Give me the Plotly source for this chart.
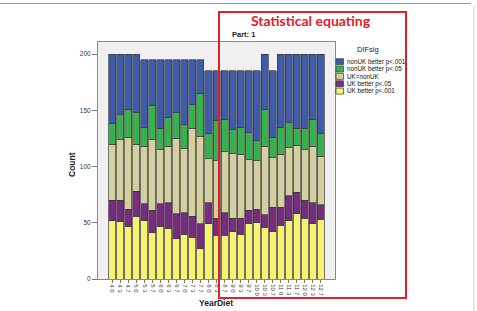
import plotly.graph_objects as go

categories = ["4 0", "4 3", "4 7", "5 0", "5 3", "5 7", "6 0", "6 3", "6 7",
              "7 0", "7 3", "7 7", "8 0", "8 3", "8 7", "9 0", "9 3", "9 7",
              "10 0", "10 3", "10 7", "11 0", "11 3", "11 7", "12 0", "12 3", "12 7"]

uk_better_001 = [52, 51, 47, 56, 52, 41, 47, 45, 36, 40, 37, 27, 49, 39, 39, 42, 40, 49, 50, 46, 42, 48, 52, 58, 54, 49, 53]
uk_better_05 = [18, 19, 15, 22, 15, 20, 20, 23, 22, 19, 19, 22, 19, 15, 20, 12, 14, 12, 12, 11, 22, 16, 22, 19, 16, 19, 13]
uk_eq_nonuk = [50, 54, 64, 42, 51, 63, 48, 50, 67, 57, 78, 78, 39, 51, 54, 58, 57, 45, 43, 61, 44, 47, 43, 42, 45, 50, 43]
nonuk_better_05 = [18, 22, 25, 28, 17, 30, 19, 26, 23, 21, 21, 38, 22, 36, 29, 21, 24, 24, 18, 33, 18, 24, 22, 15, 19, 24, 20]
nonuk_better_001 = [62, 54, 49, 52, 60, 41, 61, 51, 47, 58, 40, 30, 56, 44, 43, 52, 50, 55, 62, 49, 59, 65, 61, 66, 66, 58, 71]

series_names = ["UK better p<.001", "UK better p<.05", "UK=nonUK", "nonUK better p<.05", "nonUK better p<.001"]
series_values = [uk_better_001, uk_better_05, uk_eq_nonuk, nonuk_better_05, nonuk_better_001]
series_colors = ["#f7f36e", "#7a2a80", "#d5cf9c", "#36b24a", "#3e5aaa"]

y_ticks = [0, 50, 100, 150, 200]

W, H = 477, 311
L, R, T, B = 98, 335, 42, 279

def xp(px):
    return (px - L) / (R - L)

def yp(py):
    return (B - py) / (B - T)

fig = go.Figure()
for name, vals, col in zip(series_names, series_values, series_colors):
    fig.add_trace(go.Bar(
        x=categories, y=vals, name=name,
        marker=dict(color=col, line=dict(color="#3a3a3a", width=0.7)),
        showlegend=False,
    ))

shapes = []
annotations = []

# outer page frame
shapes.append(dict(type="line", xref="paper", yref="paper", x0=xp(0), x1=xp(471), y0=yp(3.5), y1=yp(3.5),
                   line=dict(color="#9a9a9a", width=1)))
shapes.append(dict(type="line", xref="paper", yref="paper", x0=xp(474), x1=xp(474), y0=yp(6), y1=yp(311),
                   line=dict(color="#d0d0d0", width=1)))

# red highlight box
shapes.append(dict(type="rect", xref="paper", yref="paper", x0=xp(219), x1=xp(406), y0=yp(12), y1=yp(298),
                   line=dict(color="#e3202a", width=2), fillcolor="rgba(0,0,0,0)", layer="above"))
annotations.append(dict(text="<b>Statistical equating</b>", xref="paper", yref="paper", x=xp(311), y=yp(21),
                        showarrow=False, font=dict(family="Lato, Open Sans", size=14, color="#e3202a"),
                        xanchor="center", yanchor="middle"))
annotations.append(dict(text="<b>Part: 1</b>", xref="paper", yref="paper", x=xp(230), y=yp(35),
                        showarrow=False, font=dict(family="Liberation Sans, Arial", size=7.5, color="#222"),
                        xanchor="left", yanchor="middle"))

# legend (drawn manually: title + swatches)
annotations.append(dict(text="DIFsig", xref="paper", yref="paper", x=xp(368), y=yp(49.5),
                        showarrow=False, font=dict(family="Liberation Sans, Arial", size=7.5, color="#222"),
                        xanchor="center", yanchor="middle"))
row_y0, row_step = 61.7, 7.35
for k, idx in enumerate(range(len(series_names) - 1, -1, -1)):
    cy = row_y0 + k * row_step
    shapes.append(dict(type="rect", xref="paper", yref="paper", x0=xp(336), x1=xp(343.5),
                       y0=yp(cy - 3), y1=yp(cy + 3), fillcolor=series_colors[idx],
                       line=dict(color="#3a3a3a", width=0.7)))
    annotations.append(dict(text=series_names[idx], xref="paper", yref="paper", x=xp(345), y=yp(cy),
                            showarrow=False, font=dict(family="Liberation Sans, Arial", size=6.3, color="#111"),
                            xanchor="left", yanchor="middle"))

# axis titles
annotations.append(dict(text="<b>Count</b>", xref="paper", yref="paper", x=xp(72), y=yp(165),
                        showarrow=False, textangle=-90,
                        font=dict(family="Liberation Sans, Arial", size=8.5, color="#222"),
                        xanchor="center", yanchor="middle"))
annotations.append(dict(text="<b>YearDiet</b>", xref="paper", yref="paper", x=xp(216), y=yp(303),
                        showarrow=False, font=dict(family="Liberation Sans, Arial", size=8.5, color="#222"),
                        xanchor="center", yanchor="middle"))

fig.update_layout(
    width=W, height=H,
    margin=dict(l=L, r=W - R, t=T, b=H - B, pad=0),
    barmode="stack", bargap=0.125,
    paper_bgcolor="white", plot_bgcolor="#f0f0f0",
    shapes=shapes, annotations=annotations,
    showlegend=False,
    font=dict(family="Liberation Sans, Arial", size=6, color="#333"),
)
fig.update_xaxes(type="category", range=[-1.8, 27.8], tickangle=90,
                 ticks="outside", ticklen=3, tickcolor="#777", tickwidth=1,
                 tickfont=dict(size=6, color="#333"),
                 showline=True, linecolor="#8a8a8a", linewidth=1, mirror=True,
                 showgrid=False, zeroline=False)
fig.update_yaxes(range=[0, 210.7], tickvals=y_ticks, ticks="outside", ticklen=5,
                 tickcolor="#777", tickwidth=1, tickfont=dict(size=6.5, color="#333"),
                 showline=True, linecolor="#8a8a8a", linewidth=1, mirror=True,
                 showgrid=False, zeroline=False)

fig.write_html("out.html")
